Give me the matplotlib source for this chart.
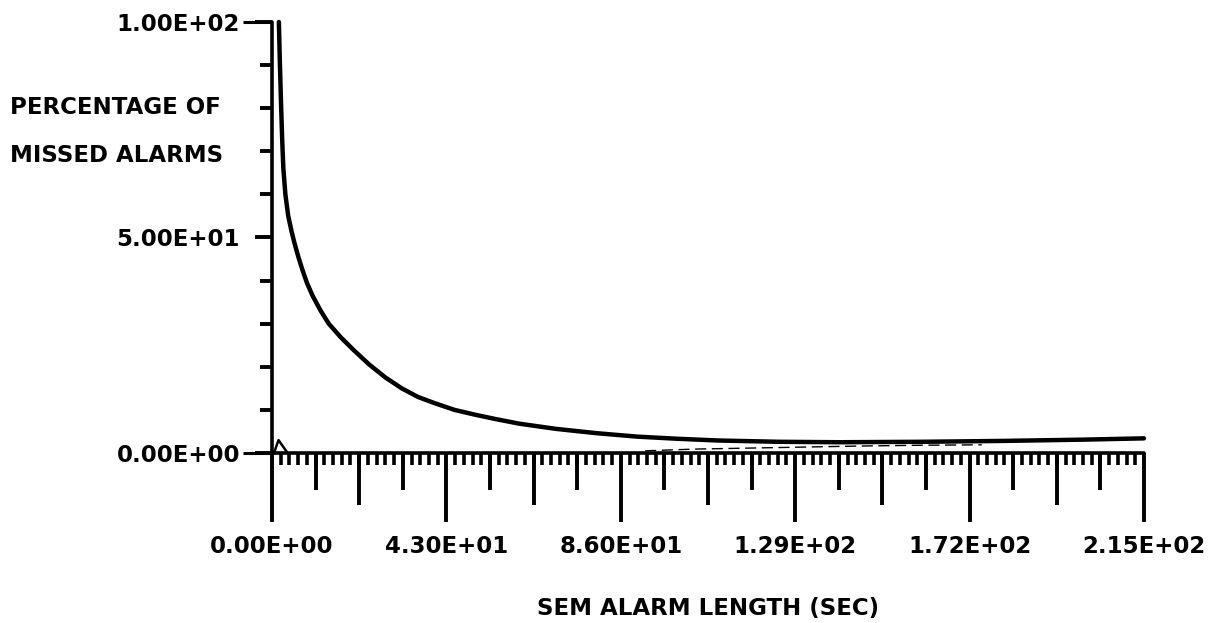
import matplotlib
matplotlib.use("Agg")
import matplotlib.pyplot as plt
from matplotlib.ticker import FixedLocator, MultipleLocator, NullFormatter

# ---- data ----
sem_length = [1.7, 1.9, 2.2, 2.5, 2.8, 3.3, 4.0, 4.8, 5.6, 6.5, 7.5, 8.6, 10.0, 12.0,
              14.0, 17.0, 20.0, 24.0, 28.0, 32.0, 36.0, 40.0, 45.0, 50.0, 55.0,
              61.0, 70.0, 80.0, 90.0, 100.0, 110.0, 125.0, 140.0, 160.0, 180.0,
              200.0, 215.0]
missed_pct = [100.0, 92.0, 82.0, 73.0, 66.0, 60.0, 55.0, 51.5, 48.5, 45.5, 42.5, 39.5,
              36.5, 33.0, 30.0, 26.8, 24.0, 20.5, 17.5, 15.0, 13.0, 11.6, 10.0, 8.9,
              7.9, 6.8, 5.6, 4.6, 3.8, 3.3, 2.9, 2.6, 2.5, 2.6, 2.8,
              3.1, 3.4]

low_x = [0.5, 1.6, 3.7]
low_y = [0.0, 3.0, 0.2]
frag_x = [92.0, 104.0, 144.0, 160.0, 175.0]
frag_y = [0.5, 0.9, 1.6, 1.8, 1.9]

x_major = [0, 43, 86, 129, 172, 215]
x_labels = ["0.00E+00", "4.30E+01", "8.60E+01", "1.29E+02", "1.72E+02", "2.15E+02"]
y_major = [0, 50, 100]
y_labels = ["0.00E+00", "5.00E+01", "1.00E+02"]

XMAX = 215.0
YMAX = 100.0

fig = plt.figure(figsize=(12.15, 6.23), dpi=100)
ax = fig.add_axes([272 / 1215, (623 - 453) / 623, 872 / 1215, 431 / 623])
ax.set_xlim(0, XMAX)
ax.set_ylim(0, YMAX)

for s in ["top", "right"]:
    ax.spines[s].set_visible(False)
for s in ["left", "bottom"]:
    ax.spines[s].set_linewidth(2.6)
    ax.spines[s].set_capstyle("round")

ax.plot(sem_length, missed_pct, color="black", lw=3.2, solid_capstyle="round",
        solid_joinstyle="round", clip_on=False, zorder=5)
ax.plot(low_x, low_y, color="black", lw=1.8, clip_on=False, zorder=4)
ax.plot(frag_x, frag_y, color="black", lw=1.0, ls=(0, (8, 4)), clip_on=False, zorder=4)

fp = dict(family="DejaVu Sans", weight="bold", size=16.5)

# x ticks: major (labelled) and minor
ax.xaxis.set_major_locator(FixedLocator(x_major))
ax.set_xticklabels(x_labels, **fp)
ax.xaxis.set_minor_locator(MultipleLocator(XMAX / 100))
ax.tick_params(axis="x", which="major", direction="out", length=50, width=2.8, pad=9)
ax.tick_params(axis="x", which="minor", direction="out", length=8.5, width=2.6)

# half and quarter division ticks through secondary axes
halves = [XMAX / 10 * k for k in range(1, 10, 2)]
quarters = [XMAX / 20 * k for k in range(1, 20, 2)]
for locs, ln in [(halves, 37.5), (quarters, 26.5)]:
    sec = ax.secondary_xaxis("bottom")
    sec.set_xticks(locs)
    sec.xaxis.set_major_formatter(NullFormatter())
    sec.tick_params(axis="x", direction="out", length=ln, width=2.8)
    sec.spines["bottom"].set_visible(False)

# y ticks
ax.yaxis.set_major_locator(FixedLocator(y_major))
ax.set_yticklabels(y_labels, **fp)
ax.yaxis.set_minor_locator(MultipleLocator(10))
ax.tick_params(axis="y", which="major", direction="out", length=12, width=2.8, pad=11)
ax.tick_params(axis="y", which="minor", direction="out", length=8.5, width=2.8)
secy = ax.secondary_yaxis("left")
secy.set_yticks([y_major[0], y_major[-1]])
secy.yaxis.set_major_formatter(NullFormatter())
secy.tick_params(axis="y", direction="out", length=21, width=2.2)
secy.spines["left"].set_visible(False)

# axis titles
fig.text(10 / 1215, 1 - 108 / 623, "PERCENTAGE OF", ha="left", va="center", **fp)
fig.text(10 / 1215, 1 - 155 / 623, "MISSED ALARMS", ha="left", va="center", **fp)
fig.text(708 / 1215, 1 - 608 / 623, "SEM ALARM LENGTH (SEC)", ha="center", va="center", **fp)

fig.savefig("out.png", dpi=100, facecolor="white")
